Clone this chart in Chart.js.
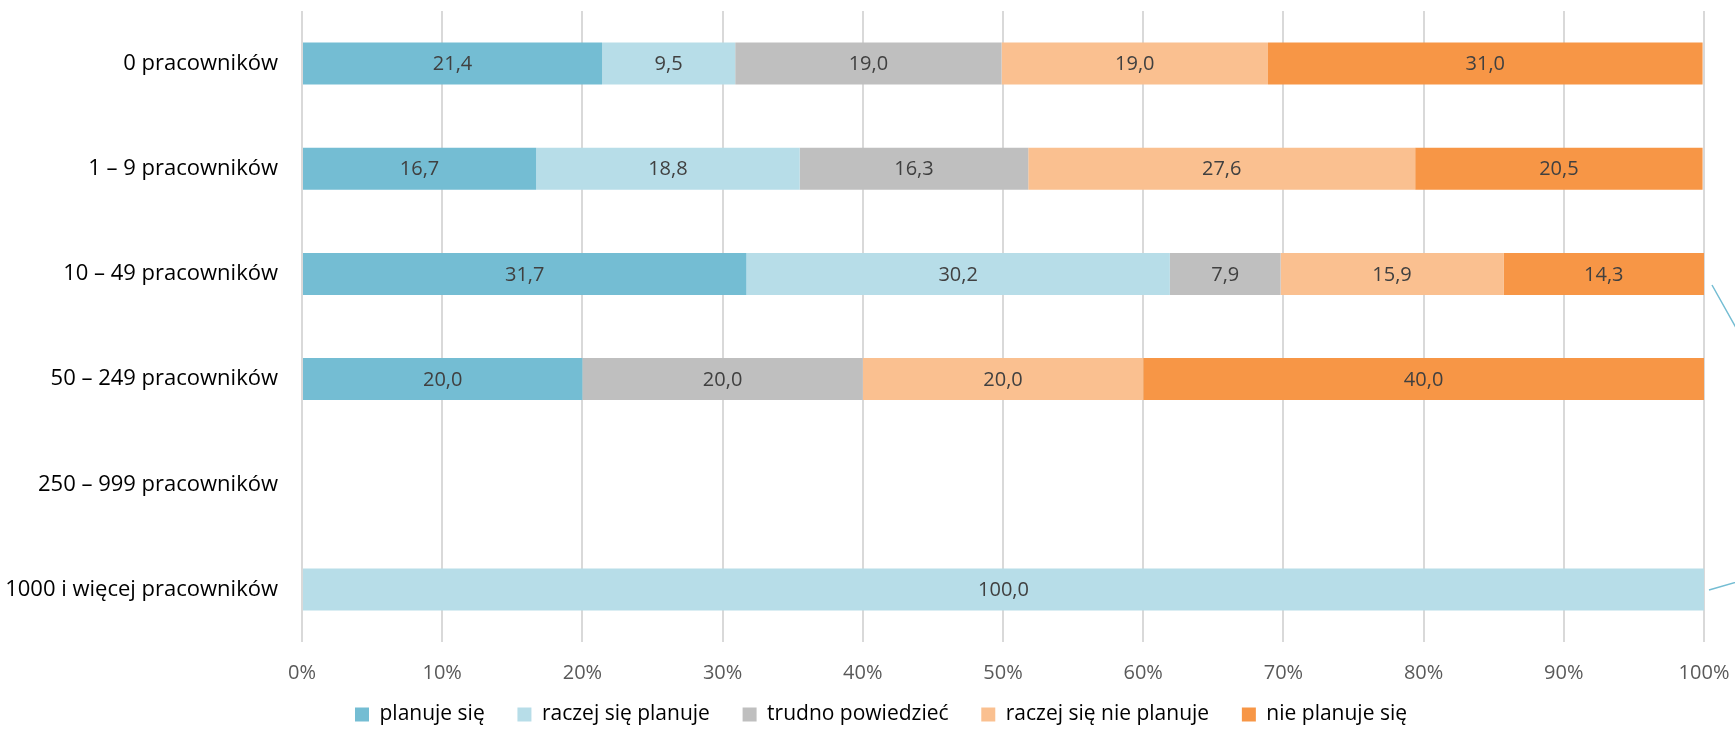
<!DOCTYPE html>
<html>
<head>
<meta charset="utf-8">
<script src="https://cdn.jsdelivr.net/npm/chart.js@4.4.1/dist/chart.umd.min.js"></script>
<style>
  html, body { margin: 0; padding: 0; background: #fff; }
  #wrap { width: 1735px; height: 738px; position: relative; }
</style>
</head>
<body>
<div id="wrap"><canvas id="chart"></canvas></div>
<script>
// Firm size groups (rows, top to bottom)
const categories = [
    '0 pracowników',
    '1 – 9 pracowników',
    '10 – 49 pracowników',
    '50 – 249 pracowników',
    '250 – 999 pracowników',
    '1000 i więcej pracowników'
];

// Answer shares in %, one array per answer
const planujeSie        = [21.4, 16.7, 31.7, 20.0, null, null];
const raczejPlanuje     = [9.5, 18.8, 30.2, null, null, 100.0];
const trudnoPowiedziec  = [19.0, 16.3, 7.9, 20.0, null, null];
const raczejNiePlanuje  = [19.0, 27.6, 15.9, 20.0, null, null];
const niePlanujeSie     = [31.0, 20.5, 14.3, 40.0, null, null];

const seriesNames = ['planuje się', 'raczej się planuje', 'trudno powiedzieć', 'raczej się nie planuje', 'nie planuje się'];
const seriesColors = ['#74BDD3', '#B7DDE8', '#BFBFBF', '#FAC090', '#F79646'];
const seriesData = [planujeSie, raczejPlanuje, trudnoPowiedziec, raczejNiePlanuje, niePlanujeSie];

const xTicks = [0, 10, 20, 30, 40, 50, 60, 70, 80, 90, 100];

const FONT = 'Open Sans';
const LABEL_COL = 302;    // x where the plot starts
const LEGEND_SHIFT = 29;  // legend row sits a bit right of the layout centre

// values printed in the middle of each segment, with a decimal comma
const valueLabels = {
    id: 'valueLabels',
    afterDatasetsDraw(chart) {
        const ctx = chart.ctx;
        ctx.save();
        ctx.font = '20px "' + FONT + '"';
        ctx.fillStyle = '#404040';
        ctx.textAlign = 'center';
        ctx.textBaseline = 'middle';
        chart.data.datasets.forEach((ds, i) => {
            const meta = chart.getDatasetMeta(i);
            meta.data.forEach((bar, j) => {
                const v = ds.data[j];
                if (v == null || v === 0) return;
                const cx = (bar.x + bar.base) / 2;
                ctx.fillText(v.toFixed(1).replace('.', ','), cx, bar.y + 1);
            });
        });
        ctx.restore();
    }
};

// move the legend box sideways once the layout is done
const legendShift = {
    id: 'legendShift',
    afterLayout(chart) {
        chart.legend.left += LEGEND_SHIFT;
        chart.legend.right += LEGEND_SHIFT;
    }
};

// thin connector strokes running off the right edge
const sideStrokes = {
    id: 'sideStrokes',
    afterDraw(chart) {
        const ctx = chart.ctx;
        const r = chart.chartArea.right;
        ctx.save();
        ctx.strokeStyle = '#74BDD3';
        ctx.lineWidth = 1.5;
        ctx.beginPath();
        ctx.moveTo(r + 8, 285);
        ctx.lineTo(r + 40, 342);
        ctx.moveTo(r + 5, 590);
        ctx.lineTo(r + 40, 580);
        ctx.stroke();
        ctx.restore();
    }
};

new Chart(document.getElementById('chart'), {
    type: 'bar',
    data: {
        labels: categories,
        datasets: seriesNames.map((name, i) => ({
            label: name,
            data: seriesData[i],
            backgroundColor: seriesColors[i],
            borderWidth: 0,
            barPercentage: 0.4,
            categoryPercentage: 1.0
        }))
    },
    options: {
        indexAxis: 'y',
        responsive: true,
        maintainAspectRatio: false,
        animation: false,
        layout: { padding: { top: 11, right: 31, left: 0, bottom: 3 } },
        scales: {
            x: {
                stacked: true,
                min: 0,
                max: 100,
                afterBuildTicks(axis) { axis.ticks = xTicks.map(v => ({ value: v })); },
                grid: { color: '#D9D9D9', lineWidth: 2, drawTicks: false },
                border: { display: false },
                ticks: {
                    color: '#595959',
                    font: { family: FONT, size: 20 },
                    padding: 19,
                    callback: v => v + '%'
                },
                // the layout padding already leaves room for the end labels
                afterFit(scale) {
                    scale.paddingLeft = 0;
                    scale.paddingRight = 0;
                }
            },
            y: {
                stacked: true,
                grid: { display: false, drawTicks: false },
                border: { display: false },
                ticks: {
                    color: '#000',
                    font: { family: FONT, size: 22 },
                    padding: 24
                },
                // fixed label column; no extra top/bottom room for the labels
                afterFit(scale) {
                    scale.width = LABEL_COL;
                    scale.paddingTop = 0;
                    scale.paddingBottom = 0;
                }
            }
        },
        plugins: {
            legend: {
                position: 'bottom',
                labels: {
                    color: '#000',
                    font: { family: FONT, size: 21 },
                    boxWidth: 14,
                    boxHeight: 14,
                    padding: 0,
                    // widen the gap between entries without adding vertical space
                    generateLabels(chart) {
                        const items = Chart.defaults.plugins.legend.labels.generateLabels(chart);
                        items.forEach((it, k) => {
                            if (k < items.length - 1) it.text = it.text + '      ';
                        });
                        return items;
                    }
                }
            },
            tooltip: { enabled: false }
        }
    },
    plugins: [valueLabels, legendShift, sideStrokes]
});
</script>
</body>
</html>
